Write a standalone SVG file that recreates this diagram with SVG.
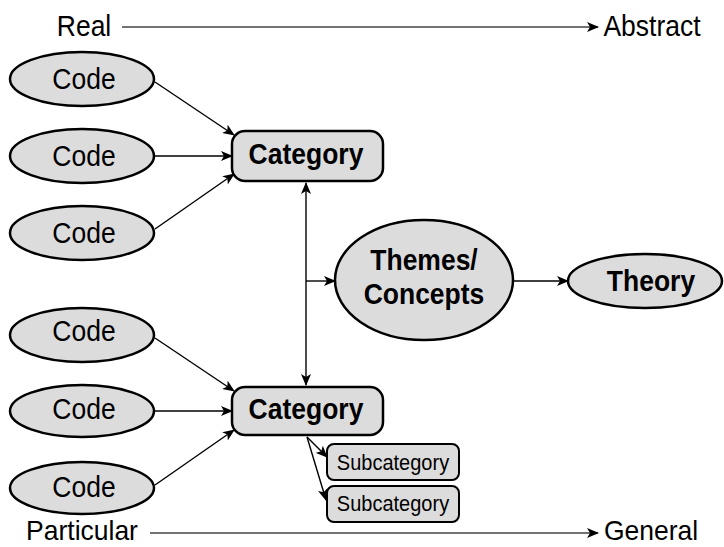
<svg xmlns="http://www.w3.org/2000/svg" width="724" height="547" viewBox="0 0 724 547">
<style>
text{font-family:"Liberation Sans",Arial,sans-serif;fill:#000;text-anchor:middle}
.n{font-size:26.5px}
.b{font-size:26.5px;font-weight:bold}
.s{font-size:20px}
.shape{fill:#dcdcdc;stroke:#000;stroke-width:2.5}
.sub{fill:#dcdcdc;stroke:#000;stroke-width:2}
.c{fill:none;stroke:#000;stroke-width:1.4}
.ax{fill:none;stroke:#444;stroke-width:1.6}
</style>
<defs>
<marker id="ah" markerWidth="12" markerHeight="10" refX="11" refY="5" orient="auto" markerUnits="userSpaceOnUse">
<path d="M0,0 L12,5 L0,10 L3,5 Z" fill="#000"/>
</marker>
<marker id="ahs" markerWidth="12" markerHeight="10" refX="1" refY="5" orient="auto" markerUnits="userSpaceOnUse">
<path d="M12,0 L0,5 L12,10 L9,5 Z" fill="#000"/>
</marker>
</defs>

<g id="axes">
<text class="n" transform="translate(84,36) scale(1,1.1)">Real</text>
<text class="n" transform="translate(652,36) scale(1,1.1)">Abstract</text>
<text class="n" transform="translate(82,540) scale(1,1.05)">Particular</text>
<text class="n" transform="translate(651,540) scale(1,1.05)">General</text>
</g>

<g id="connectors">
<line class="ax" x1="122" y1="27" x2="598" y2="27" marker-end="url(#ah)"/>
<line class="ax" x1="150" y1="533" x2="598" y2="533" marker-end="url(#ah)"/>
<line class="c" x1="155" y1="82" x2="234" y2="135" marker-end="url(#ah)"/>
<line class="c" x1="155" y1="156" x2="232" y2="156" marker-end="url(#ah)"/>
<line class="c" x1="155" y1="229" x2="234" y2="174" marker-end="url(#ah)"/>
<line class="c" x1="155" y1="338" x2="234" y2="391" marker-end="url(#ah)"/>
<line class="c" x1="155" y1="411" x2="232" y2="411" marker-end="url(#ah)"/>
<line class="c" x1="155" y1="485" x2="234" y2="430" marker-end="url(#ah)"/>
<line class="c" x1="306" y1="183" x2="306" y2="385" marker-start="url(#ahs)" marker-end="url(#ah)"/>
<line class="c" x1="306" y1="281" x2="335" y2="281" marker-end="url(#ah)"/>
<line class="c" x1="513" y1="281" x2="568" y2="281" marker-end="url(#ah)"/>
<line class="c" x1="307" y1="437" x2="327" y2="457" marker-end="url(#ah)"/>
<line class="c" x1="307" y1="437" x2="326" y2="500" marker-end="url(#ah)"/>
</g>

<g id="code1"><ellipse class="shape" cx="82" cy="79" rx="72" ry="27"/><text class="n" transform="translate(84,88.5) scale(1,1.1)">Code</text></g>
<g id="code2"><ellipse class="shape" cx="82" cy="156" rx="72" ry="27"/><text class="n" transform="translate(84,165.5) scale(1,1.1)">Code</text></g>
<g id="code3"><ellipse class="shape" cx="82" cy="233" rx="72" ry="27"/><text class="n" transform="translate(84,242.5) scale(1,1.1)">Code</text></g>
<g id="code4"><ellipse class="shape" cx="82" cy="335" rx="72" ry="27"/><text class="n" transform="translate(84,341) scale(1,1.1)">Code</text></g>
<g id="code5"><ellipse class="shape" cx="82" cy="411" rx="72" ry="26"/><text class="n" transform="translate(84,418.5) scale(1,1.1)">Code</text></g>
<g id="code6"><ellipse class="shape" cx="82" cy="488" rx="72" ry="26"/><text class="n" transform="translate(84,496.5) scale(1,1.1)">Code</text></g>

<g id="category1"><rect class="shape" x="232" y="131" width="151" height="50" rx="13"/><text class="b" transform="translate(306,164) scale(1,1.1)">Category</text></g>
<g id="category2"><rect class="shape" x="232" y="387" width="151" height="48" rx="13"/><text class="b" transform="translate(306,419) scale(1,1.1)">Category</text></g>

<g id="themes"><ellipse class="shape" cx="424" cy="280" rx="89" ry="60"/>
<text class="b" transform="translate(424,270) scale(1,1.1)">Themes/</text>
<text class="b" transform="translate(424,304) scale(1,1.1)">Concepts</text></g>

<g id="theory"><ellipse class="shape" cx="645" cy="281" rx="77" ry="27"/><text class="b" transform="translate(651,291) scale(1,1.1)">Theory</text></g>

<g id="sub1"><rect class="sub" x="327" y="444" width="132" height="36" rx="7"/><text class="s" transform="translate(393,470) scale(1,1.1)">Subcategory</text></g>
<g id="sub2"><rect class="sub" x="327" y="486" width="132" height="36" rx="7"/><text class="s" transform="translate(393,511) scale(1,1.1)">Subcategory</text></g>
</svg>
